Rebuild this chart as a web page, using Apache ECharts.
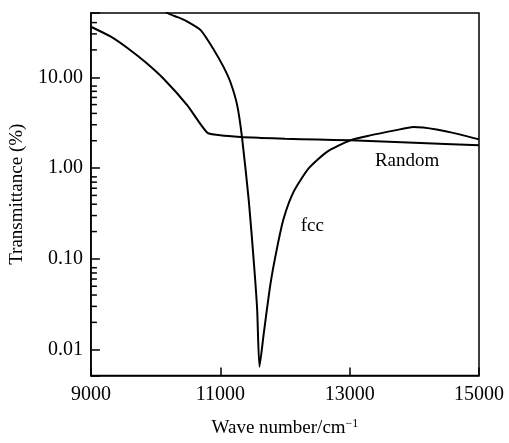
<!DOCTYPE html>
<html>
<head>
<meta charset="utf-8">
<script src="https://cdn.jsdelivr.net/npm/echarts@6/dist/echarts.min.js"></script>
<style>
  html, body { margin: 0; padding: 0; background: #fff; }
  #main { width: 509px; height: 443px; }
</style>
</head>
<body>
<div id="main"></div>
<script>
// 数据（从图上读出来的）
var randomData = [
  [9000, 36], [9308, 28], [9565, 21], [9850, 14.5], [10131, 9.5],
  [10491, 4.9], [10800, 2.45], [11000, 2.3], [11313, 2.2], [11622, 2.15],
  [12000, 2.1], [12500, 2.06], [13010, 2.02], [14000, 1.9], [15000, 1.78]
];
var fccData = [
  [10050, 65], [10183, 51], [10337, 46], [10491, 41], [10697, 33],
  [10902, 20], [11050, 13], [11159, 8.75], [11262, 4.9], [11339, 2.1],
  [11442, 0.43], [11520, 0.09], [11570, 0.028], [11606, 0.0065],
  [11672, 0.015], [11776, 0.053], [11879, 0.133], [11981, 0.28],
  [12135, 0.55], [12366, 0.99], [12650, 1.51], [13010, 2.02],
  [13318, 2.29], [13700, 2.6], [13986, 2.83], [14345, 2.66],
  [14700, 2.35], [15000, 2.07]
];
// y轴上的小刻度
var minorTicks = [
  0.02, 0.03, 0.04, 0.05, 0.06, 0.07, 0.08,
  0.2, 0.3, 0.4, 0.5, 0.6, 0.7, 0.8,
  2, 3, 4, 5, 6, 7, 8,
  20, 30, 40
];
// 曲线旁边的文字
var curveLabels = [
  [13888, 1.21, 'Random'],
  [12423, 0.23, 'fcc']
];

var font = "'Liberation Serif', 'Times New Roman', serif";

var myChart = echarts.init(document.getElementById('main'));

option = {
    animation: false,
    backgroundColor: '#fff',
    grid: {
        left: 90, right: 30, top: 13, bottom: 64,
        show: true, borderColor: '#000', borderWidth: 1.5
    },
    xAxis: {
        type: 'value',
        min: 9000, max: 15000, interval: 2000,
        name: 'Wave number/cm{sup|−1}',
        nameLocation: 'middle',
        nameGap: 42,
        nameTextStyle: {
            color: '#000', fontSize: 19, fontFamily: font,
            rich: {
                sup: { fontSize: 12, fontFamily: font, color: '#000', padding: [0, 0, 10, 0] }
            }
        },
        axisLine: { lineStyle: { color: '#000', width: 1.5 } },
        axisTick: { inside: true, length: 8, lineStyle: { color: '#000', width: 1.5 } },
        axisLabel: {
            color: '#000', fontSize: 20, fontFamily: font, margin: 9,
            formatter: function (v) { return String(v); }
        },
        splitLine: { show: false }
    },
    yAxis: {
        type: 'log',
        logBase: 10,
        min: 0.0052, max: 51,
        name: 'Transmittance (%)',
        nameLocation: 'middle',
        nameGap: 60,
        nameTextStyle: { color: '#000', fontSize: 19, fontFamily: font },
        axisLine: { lineStyle: { color: '#000', width: 1.5 } },
        axisTick: { inside: true, length: 9, lineStyle: { color: '#000', width: 1.5 } },
        axisLabel: {
            color: '#000', fontSize: 20, fontFamily: font, margin: 8,
            formatter: function (v) {
                var l = Math.log10(v);
                if (Math.abs(l - Math.round(l)) > 1e-6) return '';
                return v.toFixed(2);
            }
        },
        splitLine: { show: false }
    },
    series: [
        {
            name: 'Random',
            type: 'line',
            data: randomData,
            smooth: 0.2,
            symbol: 'none',
            lineStyle: { color: '#000', width: 2 }
        },
        {
            name: 'fcc',
            type: 'line',
            data: fccData,
            smooth: 0.2,
            symbol: 'none',
            lineStyle: { color: '#000', width: 2 }
        },
        {
            type: 'custom',
            silent: true,
            encode: { x: 0, y: 1 },
            data: curveLabels,
            renderItem: function (params, api) {
                var p = api.coord([api.value(0), api.value(1)]);
                return {
                    type: 'text',
                    x: p[0], y: p[1],
                    style: {
                        text: curveLabels[params.dataIndex][2],
                        fill: '#000',
                        font: '19px ' + font,
                        align: 'center',
                        verticalAlign: 'middle'
                    }
                };
            }
        },
        {
            // 对数刻度的小刻度线
            type: 'custom',
            silent: true,
            clip: false,
            encode: { x: 0, y: 1 },
            data: minorTicks.map(function (v) { return [9000, v]; }),
            renderItem: function (params, api) {
                var p = api.coord([api.value(0), api.value(1)]);
                return {
                    type: 'line',
                    shape: { x1: p[0], y1: p[1], x2: p[0] + 6, y2: p[1] },
                    style: { stroke: '#000', lineWidth: 1.5 }
                };
            }
        }
    ]
};

myChart.setOption(option);
</script>
</body>
</html>
